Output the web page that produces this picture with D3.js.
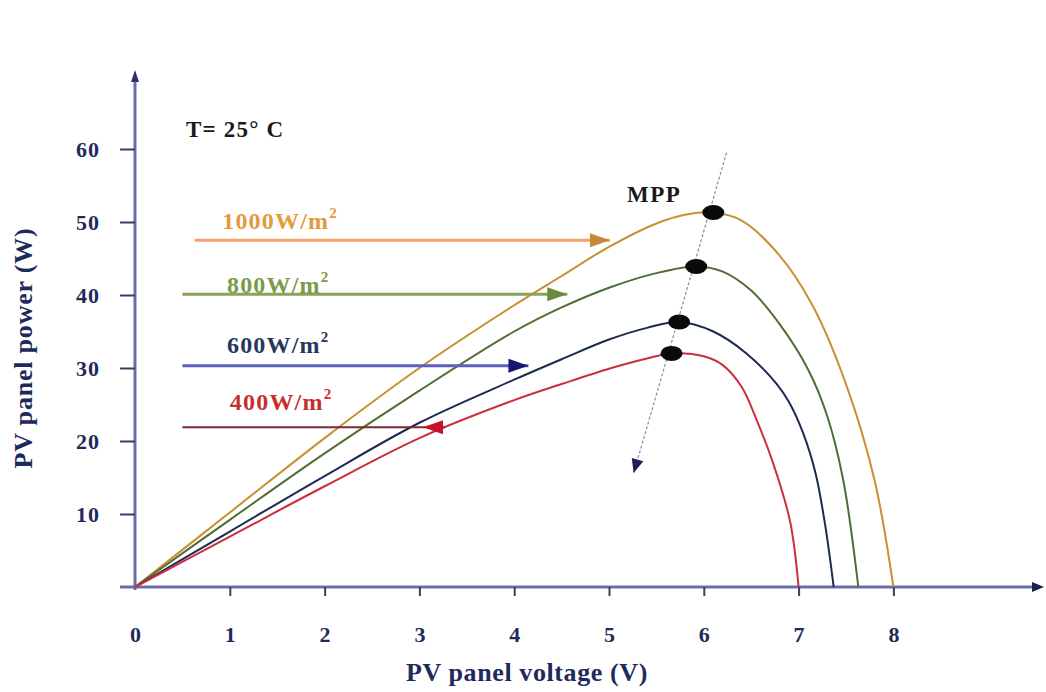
<!DOCTYPE html>
<html><head><meta charset="utf-8">
<script src="https://cdn.jsdelivr.net/npm/d3@7"></script>
<style>body{margin:0;background:#fff}svg{display:block}</style>
</head><body><svg id="c" width="1046" height="692"></svg>
<script>
// ---- data ----
const xTicks = [0,1,2,3,4,5,6,7,8];
const yTicks = [10,20,30,40,50,60];
const irradianceLabels = ["1000W/m", "800W/m", "600W/m", "400W/m"];
const curve1000 = [[0,0],[1,10.2],[2,20.4],[3,30.0],[4,38.6],[4.5,42.6],[5,46.6],[5.5,49.8],[5.8,51.0],[6.1,51.3],[6.4,50.2],[6.8,45.4],[7.15,38.5],[7.5,27.8],[7.8,14.7],[8.0,0]];
const curve800  = [[0,0],[1,9.2],[2,18.3],[3,26.9],[4,35.0],[4.5,38.3],[5,41.0],[5.5,43.0],[5.92,43.9],[6.2,43.2],[6.5,40.6],[6.8,36.0],[7.1,29.8],[7.3,23.5],[7.47,14.7],[7.63,0]];
const curve600  = [[0,0],[1,7.6],[2,15.2],[3,22.5],[4,28.4],[4.5,31.2],[5,33.9],[5.4,35.5],[5.74,36.3],[6.1,35.0],[6.45,32.0],[6.77,27.8],[6.9,25.3],[7.05,21.0],[7.18,15.5],[7.28,8.5],[7.37,0]];
const curve400  = [[0,0],[1,6.9],[2,13.8],[3,20.4],[4,25.6],[4.5,27.8],[5,29.9],[5.4,31.3],[5.66,32.0],[6.0,31.6],[6.2,30.4],[6.4,27.4],[6.56,22.8],[6.73,17.0],[6.91,9.0],[7.0,0]];
const mppV = [6.1, 5.92, 5.74, 5.66];
const mppP = [51.3, 43.9, 36.3, 32.0];
const arrowP = [47.5, 40.1, 30.3, 21.9];        // power level of each label arrow
const arrowStartV = [0.63, 0.5, 0.5, 0.5];
const arrowEndV = [5.01, 4.56, 4.15, 3.27];
const mppLine = [[6.24, 59.5], [5.26, 15.6]];

// ---- setup ----
const svg = d3.select("#c");
const x = d3.scaleLinear().domain([0, 8]).range([135, 893.4]);
const y = d3.scaleLinear().domain([0, 60]).range([587, 149]);
const serif = "'Liberation Serif','Times New Roman',serif";
const navy = "#1f2a5c";

const curves = [curve1000, curve800, curve600, curve400];
const curveColors = ["#c8902e", "#4f6e33", "#1c2b52", "#cc2f3c"];
const lineColors = ["#f4a06a", "#86a55a", "#5b5fc4", "#7a2a35"];
const headColors = ["#c48a3a", "#6b8a3e", "#16186e", "#c8102c"];
const labelColors = ["#e39a3e", "#7c9a4a", "#26375c", "#c42f30"];

// axes lines
svg.append("line").attr("x1", 120).attr("x2", 1036).attr("y1", y(0)).attr("y2", y(0))
  .attr("stroke", "#6a6ea6").attr("stroke-width", 3);
svg.append("line").attr("x1", x(0)).attr("x2", x(0)).attr("y1", 590).attr("y2", 80)
  .attr("stroke", "#6a6ea6").attr("stroke-width", 3);
svg.append("path").attr("d", `M1044,${y(0)} L1032,${y(0)-5} L1032,${y(0)+5} Z`).attr("fill", "#1c2050");
svg.append("path").attr("d", `M${x(0)},70 L${x(0)-4},82 L${x(0)+4},82 Z`).attr("fill", "#2a3070");

// axis ticks and labels
const xa = svg.append("g").attr("transform", `translate(0,${y(0)})`)
  .call(d3.axisBottom(x).tickValues(xTicks).tickSize(9).tickPadding(30).tickFormat(d3.format("d")));
const ya = svg.append("g").attr("transform", `translate(${x(0)},0)`)
  .call(d3.axisLeft(y).tickValues(yTicks).tickSize(15).tickPadding(20).tickFormat(d3.format("d")));
[xa, ya].forEach(g => {
  g.select(".domain").remove();
  g.selectAll(".tick line").attr("stroke", "#3a3d6a").attr("stroke-width", 2);
  g.selectAll("text").attr("font-family", serif).attr("font-weight", "bold")
    .attr("font-size", 22).attr("fill", navy);
});
ya.selectAll("text").attr("letter-spacing", 1);
xa.selectAll(".tick").filter(d => d === 0).select("line").remove();

// axis titles
svg.append("text").attr("x", 527).attr("y", 681).attr("text-anchor", "middle")
  .attr("font-family", serif).attr("font-weight", "bold").attr("font-size", 26).attr("fill", navy)
  .attr("letter-spacing", 0.6).text("PV panel voltage (V)");
svg.append("text").attr("transform", "translate(32,348) rotate(-90)").attr("text-anchor", "middle")
  .attr("font-family", serif).attr("font-weight", "bold").attr("font-size", 26).attr("fill", navy)
  .attr("letter-spacing", 0.8).text("PV panel power (W)");

// curves
const line = d3.line().x(d => x(d[0])).y(d => y(d[1])).curve(d3.curveCatmullRom.alpha(0.5));
curves.forEach((c, i) => {
  svg.append("path").datum(c).attr("d", line).attr("fill", "none")
    .attr("stroke", curveColors[i]).attr("stroke-width", 2);
});

// label arrows
function tri(tx, ty, dir, len, half) {
  return `M${tx},${ty} L${tx - dir*len},${ty - half} L${tx - dir*len},${ty + half} Z`;
}
arrowP.forEach((p, i) => {
  svg.append("line").attr("x1", x(arrowStartV[i])).attr("x2", x(arrowEndV[i]))
    .attr("y1", y(p)).attr("y2", y(p)).attr("stroke", lineColors[i]).attr("stroke-width", i === 3 ? 2 : 3);
  if (i === 3) {
    svg.append("path").attr("d", tri(x(arrowEndV[i]) - 22, y(p), -1, 20, 7)).attr("fill", headColors[i]);
  } else {
    svg.append("path").attr("d", tri(x(arrowEndV[i]), y(p), 1, 20, 7)).attr("fill", headColors[i]);
  }
});

// irradiance labels
const labelPos = [[0.92, 49.0], [0.97, 40.3], [0.97, 32.1], [1.0, 24.2]];
irradianceLabels.forEach((t, i) => {
  const tx = svg.append("text").attr("x", x(labelPos[i][0])).attr("y", y(labelPos[i][1]))
    .attr("font-family", serif).attr("font-weight", "bold").attr("font-size", 24)
    .attr("letter-spacing", 1.2).attr("fill", labelColors[i]);
  tx.append("tspan").text(t);
  tx.append("tspan").attr("dy", -11).attr("font-size", 15).text("2");
});

// MPP dashed line with arrow
svg.append("line").attr("x1", x(mppLine[0][0])).attr("y1", y(mppLine[0][1]))
  .attr("x2", x(mppLine[1][0])).attr("y2", y(mppLine[1][1]))
  .attr("stroke", "#8a8aa8").attr("stroke-width", 1.2).attr("stroke-dasharray", "3,2");
{
  const x1 = x(mppLine[0][0]), y1 = y(mppLine[0][1]), x2 = x(mppLine[1][0]), y2 = y(mppLine[1][1]);
  const ang = Math.atan2(y2 - y1, x2 - x1) * 180 / Math.PI;
  svg.append("path").attr("d", "M0,0 L-14,-6 L-14,6 Z").attr("fill", "#1c1f5a")
    .attr("transform", `translate(${x2},${y2}) rotate(${ang})`);
}

// MPP dots
mppV.forEach((v, i) => {
  svg.append("ellipse").attr("cx", x(v)).attr("cy", y(mppP[i])).attr("rx", 11).attr("ry", 7.5).attr("fill", "#0a0a0a");
});

// annotations
svg.append("text").attr("x", 627).attr("y", 202).attr("font-family", serif).attr("font-weight", "bold")
  .attr("font-size", 23).attr("letter-spacing", 1.5).attr("fill", "#1a1a1a").text("MPP");
svg.append("text").attr("x", 186).attr("y", 137).attr("font-family", serif).attr("font-weight", "bold")
  .attr("font-size", 23).attr("letter-spacing", 1.2).attr("fill", "#1a1a1a").text("T= 25° C");
</script></body></html>
